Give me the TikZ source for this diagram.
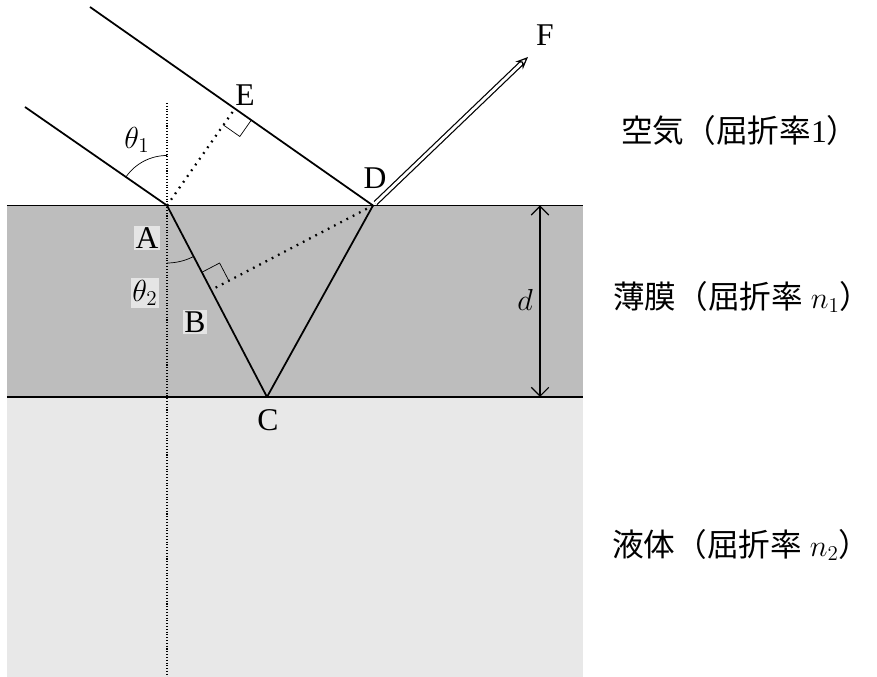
\documentclass[tikz,border=0pt]{standalone}
\usepackage{fontspec}
\setmainfont{Liberation Serif}
\newfontfamily\jpfont{Noto Sans CJK JP}
\usetikzlibrary{calc,arrows.meta}

\begin{document}
\begin{tikzpicture}[font=\fontsize{18}{21}\selectfont,
        ray/.style={line width=1pt},
        dots/.style={line width=1.3pt, dash pattern=on 1pt off 3pt},
        normalline/.style={line width=0.6pt, densely dotted},
        patch/.style={fill=gray!20, inner sep=1pt}]
        \useasboundingbox (0,0) rectangle (17.54,13.54);

        % layers
        \fill[gray!18] (0.14,0) rectangle (11.66,5.6);
        \fill[gray!52] (0.14,5.6) rectangle (11.66,9.43);
        \path[draw,ray] (0.14,9.43) -- (11.66,9.43);
        \path[draw,ray] (0.14,5.6) -- (11.66,5.6);

        \coordinate (A) at (3.34,9.43);
        \coordinate (D) at (7.46,9.43);
        \coordinate (C) at (5.34,5.6);
        \coordinate (S1) at (0.5,11.4);
        \coordinate (S2) at (1.8,13.4);
        \coordinate (F) at (10.56,12.4);
        \coordinate (N1) at (3.34,11.48);
        \coordinate (N2) at (3.34,0);
        \coordinate (E) at ($(S2)!(A)!(D)$);
        \coordinate (B) at ($(A)!(D)!(C)$);
        \coordinate (d1) at (10.8,9.43);
        \coordinate (d2) at (10.8,5.6);

        \path[draw,normalline] (N1) -- (N2);
        \path[draw,ray] (S1) -- (A);
        \path[draw,ray] (S2) -- (D);
        \path[draw,ray] (A) -- (C);
        \path[draw,ray] (C) -- (D);
        \path[draw,dots] (A) -- (E);
        \path[draw,dots] (D) -- (B);
        \path[draw,double,double distance=1.6pt,line width=0.7pt,shorten <=2pt,-{Stealth[length=7pt,width=6pt,open]}] (D) -- (F);
        \path[draw,line width=0.7pt,{Straight Barb[length=5pt]}-{Straight Barb[length=5pt]}] (d1) -- (d2);

        % right angles
        \coordinate (e1) at ($(E)!0.4cm!(D)$);
        \coordinate (e2) at ($(E)!0.4cm!(A)$);
        \path[draw,thin] (e1) -- ($(e1)+(e2)-(E)$) -- (e2);
        \coordinate (b1) at ($(B)!0.4cm!(A)$);
        \coordinate (b2) at ($(B)!0.4cm!(D)$);
        \path[draw,thin] (b1) -- ($(b1)+(b2)-(B)$) -- (b2);

        % angles
        \path[draw,thin] (A) ++(90:1.0) arc[start angle=90,end angle=145.2,radius=1.0];
        \path[draw,thin] (A) ++(270:1.15) arc[start angle=270,end angle=297.6,radius=1.15];

        \node (lE) at (4.9,11.64) {E};
        \node (lD) at (7.5,9.98) {D};
        \node (lF) at (10.9,12.84) {F};
        \node[patch] (lA) at (2.94,8.78) {A};
        \node[patch] (lt2) at (2.9,7.68) {$\theta_2$};
        \node[patch] (lB) at (3.9,7.1) {B};
        \node (lC) at (5.36,5.14) {C};
        \node (lt1) at (2.74,10.74) {$\theta_1$};
        \node (ld) at (10.5,7.55) {$d$};
        \node[anchor=west] (air) at (12.3,10.94) {{\jpfont 空気（屈折率}1{\jpfont ）}};
        \node[anchor=west] (film) at (12.14,7.6) {{\jpfont 薄膜（屈折率} $n_1${\jpfont ）}};
        \node[anchor=west] (liq) at (12.12,2.64) {{\jpfont 液体（屈折率} $n_2${\jpfont ）}};
    \end{tikzpicture}
\end{document}
